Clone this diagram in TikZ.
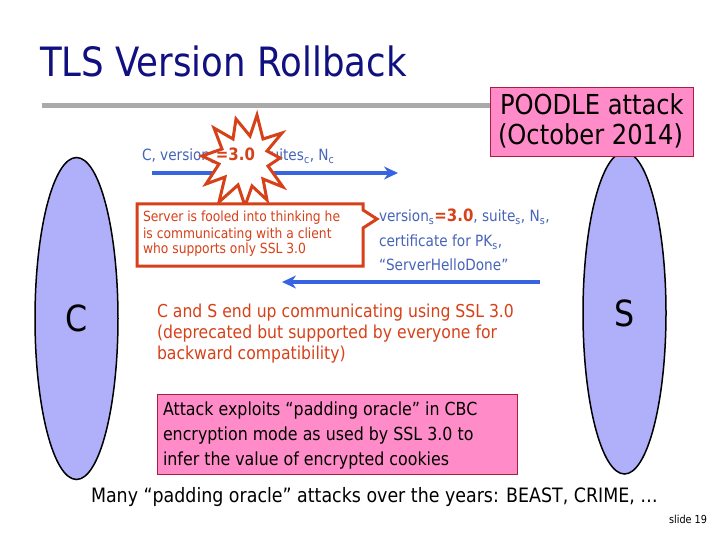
\documentclass[tikz,border=0pt]{standalone}
\usepackage{fontspec}
\setmainfont[FakeStretch=0.88]{DejaVu Sans}
\usetikzlibrary{arrows.meta,shapes.geometric}
\definecolor{navy}{RGB}{16,16,128}
\definecolor{barg}{RGB}{170,170,170}
\definecolor{pinkf}{RGB}{255,140,200}
\definecolor{pinkb}{RGB}{170,30,60}
\definecolor{lav}{RGB}{175,175,250}
\definecolor{arrowblue}{RGB}{55,100,225}
\definecolor{msgblue}{RGB}{70,100,185}
\definecolor{calred}{RGB}{215,65,25}
\pgfdeclarelayer{paper}
\pgfdeclarelayer{bg}
\pgfdeclarelayer{fg}
\pgfsetlayers{paper,bg,main,fg}
\tikzset{
  every node/.style={inner sep=0pt, outer sep=0pt},
  tl/.style={anchor=base west},
  msg/.style={tl, text=msgblue, font=\fontsize{15.5}{18}\selectfont},
  three/.style={tl, text=calred, font=\fontsize{17}{18}\selectfont\bfseries},
  callt/.style={tl, text=calred, font=\fontsize{14}{16}\selectfont},
  endt/.style={tl, text=calred, font=\fontsize{17.8}{20}\selectfont},
  boxt/.style={tl, text=black, font=\fontsize{18}{20}\selectfont},
  party/.style={ellipse, draw=black, line width=1.5pt, fill=lav, minimum width=83pt, minimum height=322pt, font=\fontsize{36}{36}\selectfont},
  pinkbox/.style={draw=pinkb, line width=0.8pt, fill=pinkf, anchor=north west},
  msgarrow/.style={draw=arrowblue, line width=4pt, -{Stealth[length=14pt,width=13pt]}},
  redline/.style={draw=calred, line width=3pt, fill=white, line join=miter}
}
\begin{document}
\begin{tikzpicture}[x=1pt,y=-1pt]
\begin{pgfonlayer}{paper}
\path[use as bounding box, fill=white] (0,0) rectangle (720,540);
\end{pgfonlayer}

% title and bar
\node[tl, text=navy, font=\fontsize{40.4}{41}\selectfont] (title) at (40,77) {TLS Version Rollback};
\fill[barg] (42,103) rectangle (492,108);

% parties
\node[party] (C) at (76.5,318.5) {C};
\node[party] (S) at (624.5,313) {S};

% POODLE box
\node[pinkbox, minimum width=203pt, minimum height=69pt] (poodle) at (490,87) {};
\node[tl, font=\fontsize{27.5}{30}\selectfont] (pl1) at (500,115) {POODLE attack};
\node[tl, font=\fontsize{27.5}{30}\selectfont] (pl2) at (498,145) {(October 2014)};

% message 1
\coordinate (a1s) at (152,173);
\coordinate (a1e) at (398,173);
\begin{pgfonlayer}{bg}
\draw[msgarrow] (a1s) -- (a1e);
\node[msg] (m1a) at (142,161) {C, version\textsubscript{c}};
\end{pgfonlayer}
\begin{pgfonlayer}{fg}
\node[three] (m1b) at (m1a.base east) {=3.0};
\end{pgfonlayer}
\begin{pgfonlayer}{bg}
\node[msg] (m1c) at (m1b.base east) {, suites\textsubscript{c}, N\textsubscript{c}};
\end{pgfonlayer}

% burst
\draw[redline] (257,115) -- (250,136) -- (236,119) -- (233,139) -- (214,128) -- (222,149) -- (202,156) -- (219,164) -- (206,184) -- (225,177) -- (219,202) -- (238,185) -- (245,206) -- (252,186) -- (267,200) -- (263,179) -- (283,187) -- (268,166) -- (280,158) -- (267,151) -- (282,133) -- (263,139) -- cycle;

% callout
\draw[redline] (137,204) -- (363,204) -- (363,210) -- (377,219) -- (363,228) -- (363,266) -- (137,266) -- cycle;
\node[callt] (c1) at (143,222) {Server is fooled into thinking he};
\node[callt] (c2) at (143,238) {is communicating with a client};
\node[callt] (c3) at (143,254) {who supports only SSL 3.0};

% message 2
\node[msg] (m2a) at (379,222) {version\textsubscript{s}};
\node[three] (m2b) at (m2a.base east) {=3.0};
\node[msg] (m2c) at (m2b.base east) {, suite\textsubscript{s}, N\textsubscript{s},};
\node[msg] (m2d) at (379,247) {certificate for PK\textsubscript{s},};
\node[msg] (m2e) at (379,270) {“ServerHelloDone”};
\coordinate (a2s) at (540,282);
\coordinate (a2e) at (282,282);
\draw[msgarrow] (a2s) -- (a2e);

% result
\node[endt] (e1) at (157,317) {C and S end up communicating using SSL 3.0};
\node[endt] (e2) at (157,338) {(deprecated but supported by everyone for};
\node[endt] (e3) at (157,359) {backward compatibility)};

% attack box
\node[pinkbox, minimum width=360pt, minimum height=80pt] (atk) at (157,394) {};
\node[boxt] (b1) at (163,415) {Attack exploits “padding oracle” in CBC};
\node[boxt] (b2) at (163,440) {encryption mode as used by SSL 3.0 to};
\node[boxt] (b3) at (163,465) {infer the value of encrypted cookies};

% bottom
\node[tl, font=\fontsize{19.8}{20}\selectfont] (many) at (91,502) {Many “padding oracle” attacks over the years: BEAST, CRIME, …};
\node[anchor=base east, font=\fontsize{11}{12}\selectfont] (slide) at (707,523) {slide 19};
\end{tikzpicture}
\end{document}
